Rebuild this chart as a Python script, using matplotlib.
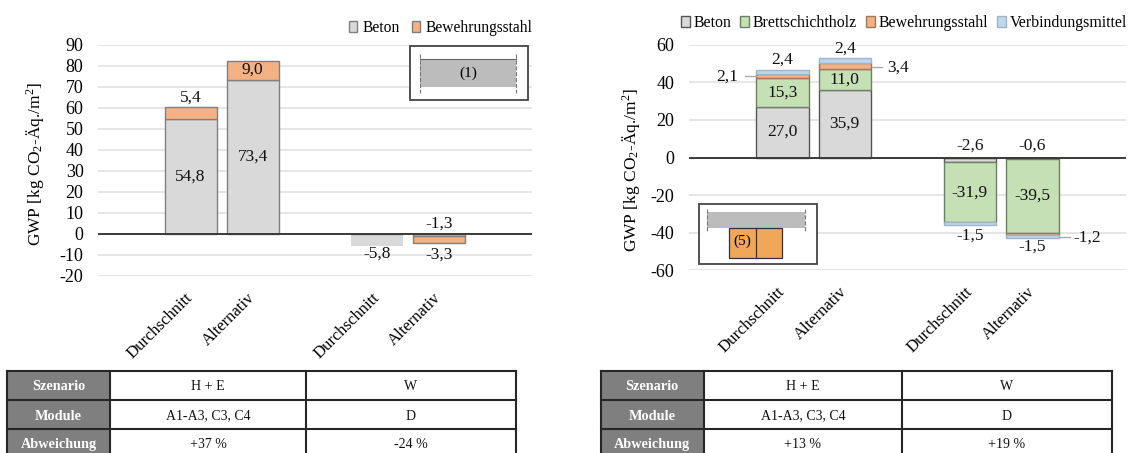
import matplotlib
matplotlib.use('Agg')
import matplotlib.pyplot as plt
from matplotlib.patches import Rectangle
from matplotlib.transforms import ScaledTranslation

plt.rcParams['font.family'] = ['Liberation Serif', 'DejaVu Sans']
plt.rcParams['mathtext.default'] = 'regular'
plt.rcParams['font.size'] = 12
plt.rcParams['axes.unicode_minus'] = False

W, H = 1129, 453

# left chart
x_labels = ['', 'Durchschnitt', 'Alternativ', '', 'Durchschnitt', 'Alternativ', '']
left_pos = [1, 2, 4, 5]
left_beton = [54.8, 73.4, -5.8, -1.3]
left_stahl = [5.4, 9.0, 0, -3.3]

# right chart
right_pos = [1, 2, 4, 5]
right_beton = [27.0, 35.9, -2.6, -0.6]
right_holz = [15.3, 11.0, -31.9, -39.5]
right_stahl = [2.1, 3.4, 0, -1.2]
right_vm = [2.4, 2.4, -1.5, -1.5]

left_table = [['H + E', 'W'], ['A1-A3, C3, C4', 'D'], ['+37 %', '-24 %']]
right_table = [['H + E', 'W'], ['A1-A3, C3, C4', 'D'], ['+13 %', '+19 %']]
row_names = ['Szenario', 'Module', 'Abweichung']

GRAY = '#d9d9d9'
GREEN = '#c5e0b4'
ORANGE = '#f4b183'
BLUE = '#bdd7ee'


def fmt(v):
    return f'{v:.1f}'.replace('.', ',')


def px_axes(x0, x1, y_top, y_bot, **kw):
    return fig.add_axes([x0 / W, 1 - y_bot / H, (x1 - x0) / W, (y_bot - y_top) / H], **kw)


def stacked(ax, pos, series, names, colors, edges):
    up = [0] * len(pos)
    down = [0] * len(pos)
    handles = []
    for vals, name, c, e in zip(series, names, colors, edges):
        bottoms = [u if v >= 0 else d for v, u, d in zip(vals, up, down)]
        b = ax.bar(pos, vals, 0.84, bottom=bottoms, color=c, edgecolor=e, linewidth=1.0,
                   label=name, zorder=3)
        handles.append(b)
        for i, v in enumerate(vals):
            if v >= 0:
                up[i] += v
            else:
                down[i] += v
    return handles


def setup(ax, ymin, ymax, step):
    ax.set_xlim(-0.5, 6.5)
    ax.set_ylim(ymin, ymax)
    ax.set_yticks(range(ymin, ymax + 1, step))
    ax.set_xticks(range(7))
    ax.set_xticklabels(x_labels, rotation=45, ha='right', rotation_mode='anchor', fontsize=12)
    ax.tick_params(axis='y', length=0, labelsize=13, pad=10)
    ax.tick_params(axis='x', length=0, pad=10)
    shift = ScaledTranslation(-5.5 / 72 * 0.72, 0, fig.dpi_scale_trans)
    for t in ax.get_xticklabels():
        t.set_transform(t.get_transform() + shift)
    for s in ax.spines.values():
        s.set_visible(False)
    ax.grid(axis='y', color='#e6e6e6', linewidth=1.4, zorder=0)
    ax.set_axisbelow(True)
    ax.axhline(0, color='#3a3a3a', linewidth=1.4, zorder=4)


def label(ax, x, y, v, dx=0, dy=0):
    ax.annotate(fmt(v), (x, y), xytext=(dx, dy), textcoords='offset pixels', ha='center',
                va='center', fontsize=12.5, color='#111111', zorder=6)


fig = plt.figure(figsize=(W / 100, H / 100), dpi=100)

# ---- left
ax1 = px_axes(97.5, 532, 44.7, 275.7)
setup(ax1, -20, 90, 10)
ax1.set_ylabel('GWP [kg CO$_2$-Äq./m$^2$]', fontsize=12.5)
ax1.yaxis.set_label_coords((46 - 97.5) / 434.5, 0.485)
bars1 = stacked(ax1, left_pos, [left_beton, left_stahl], ['Beton', 'Bewehrungsstahl'],
                [GRAY, ORANGE], ['#7f7f7f', '#7f7f7f'])
bars1[0][2].set_edgecolor('none')
ax1.legend(ncol=2, loc='center right', bbox_to_anchor=(532 / W, 1 - 28 / H),
           bbox_transform=fig.transFigure, frameon=False, fontsize=11.2,
           handlelength=0.55, handleheight=0.7, handletextpad=0.3, columnspacing=0.8,
           borderpad=0, borderaxespad=0)
label(ax1, 1, left_beton[0] / 2, left_beton[0])
label(ax1, 2, left_beton[1] / 2, left_beton[1])
label(ax1, 1, left_beton[0] + left_stahl[0], left_stahl[0], dy=10)
label(ax1, 2, left_beton[1] + left_stahl[1] / 2, left_stahl[1])
label(ax1, 4, left_beton[2], left_beton[2], dy=-8)
label(ax1, 5, left_beton[3], left_beton[3], dy=13)
label(ax1, 5, left_beton[3] + left_stahl[3], left_stahl[3], dy=-11)

# ---- right
ax2 = px_axes(688.5, 1126, 44.7, 270.3)
setup(ax2, -60, 60, 20)
ax2.set_ylabel('GWP [kg CO$_2$-Äq./m$^2$]', fontsize=12.5)
ax2.yaxis.set_label_coords((642 - 688.5) / 437.5, 0.445)
stacked(ax2, right_pos, [right_beton, right_holz, right_stahl, right_vm],
        ['Beton', 'Brettschichtholz', 'Bewehrungsstahl', 'Verbindungsmittel'],
        [GRAY, GREEN, ORANGE, BLUE], ['#555555', '#6f7f66', '#a0785a', '#9fb4c7'])
ax2.legend(ncol=4, loc='center right', bbox_to_anchor=(1127 / W, 1 - 23 / H),
           bbox_transform=fig.transFigure, frameon=False, fontsize=11.4,
           handlelength=0.55, handleheight=0.7, handletextpad=0.25, columnspacing=0.55,
           borderpad=0, borderaxespad=0)
for i, p in enumerate(right_pos[:2]):
    label(ax2, p, right_beton[i] / 2, right_beton[i])
    label(ax2, p, right_beton[i] + right_holz[i] / 2, right_holz[i])
    top = right_beton[i] + right_holz[i] + right_stahl[i] + right_vm[i]
    label(ax2, p, top, right_vm[i], dy=10)
for i, p in zip([2, 3], right_pos[2:]):
    label(ax2, p, right_beton[i], right_beton[i], dy=abs(right_beton[i]) * 1.88 + 12)
    label(ax2, p, right_beton[i] + right_holz[i] / 2, right_holz[i])
label(ax2, 4, right_beton[2] + right_holz[2] + right_vm[2], right_vm[2], dy=-10)
label(ax2, 5, right_beton[3] + right_holz[3] + right_stahl[3] + right_vm[3], right_vm[3], dy=-9)

# overlay in pixel coordinates for insets, leaders and the tables
ov = fig.add_axes([0, 0, 1, 1], zorder=10)
ov.set_xlim(0, W)
ov.set_ylim(H, 0)
ov.axis('off')
ov.patch.set_alpha(0)


def rect(x0, y0, x1, y1, fc='none', ec='none', lw=1.0):
    ov.add_patch(Rectangle((x0, y0), x1 - x0, y1 - y0, facecolor=fc, edgecolor=ec, linewidth=lw))


# inset (1)
rect(409.5, 46, 528, 100, fc='white', ec='#444444', lw=1.3)
rect(420, 59.3, 516, 87.3, fc='#bcbcbc')
ov.plot([420, 516], [59.3, 59.3], color='#666666', lw=0.8)
for x in [420, 516]:
    ov.plot([x, x], [54, 93], color='#777777', lw=0.8, ls='--')
ov.text(468, 73, '(1)', ha='center', va='center', fontsize=11)

# inset (5)
rect(698.6, 204, 816.6, 264, fc='white', ec='#444444', lw=1.3)
rect(707, 212, 805, 227.7, fc='#bcbcbc')
for x in [707, 805]:
    ov.plot([x, x], [209, 231], color='#777777', lw=0.8, ls='--')
rect(729, 227.7, 782, 257.7, fc='#f0a858', ec='#333333', lw=0.9)
ov.plot([755.5, 755.5], [227.7, 257.7], color='#333333', lw=0.9)
ov.text(742, 241, '(5)', ha='center', va='center', fontsize=11)

# leader lines with their labels
for x0, x1, y, tx, v in [(745, 756, 76.3, 727, 2.1), (872, 882, 67, 898, 3.4), (1059, 1069.5, 237, 1087.5, -1.2)]:
    ov.plot([x0, x1], [y, y], color='#a6a6a6', lw=0.9)
    ov.text(tx, y + 0.5, fmt(v), ha='center', va='center', fontsize=12.5, color='#111111')


def table(cols, rows):
    ys = [370.7, 400, 429, 460]
    for i, name in enumerate(row_names):
        yc = (ys[i] + min(ys[i + 1], 457)) / 2 + 1.5
        rect(cols[0], ys[i], cols[1], ys[i + 1], fc='#7f7f7f')
        ov.text((cols[0] + cols[1]) / 2, yc, name, color='white',
                fontweight='bold', ha='center', va='center', fontsize=10.3)
        for j in range(2):
            ov.text((cols[j + 1] + cols[j + 2]) / 2, yc, rows[i][j],
                    color='#111111', ha='center', va='center', fontsize=10)
    for y in ys[:3]:
        ov.plot([cols[0], cols[3]], [y, y], color='#262626', lw=1.5, solid_capstyle='projecting')
    for x in cols:
        ov.plot([x, x], [ys[0], H], color='#262626', lw=1.5, solid_capstyle='projecting')


table([7, 110, 306, 516], left_table)
table([600.5, 704, 902, 1112], right_table)

fig.savefig('out.png', dpi=100)
